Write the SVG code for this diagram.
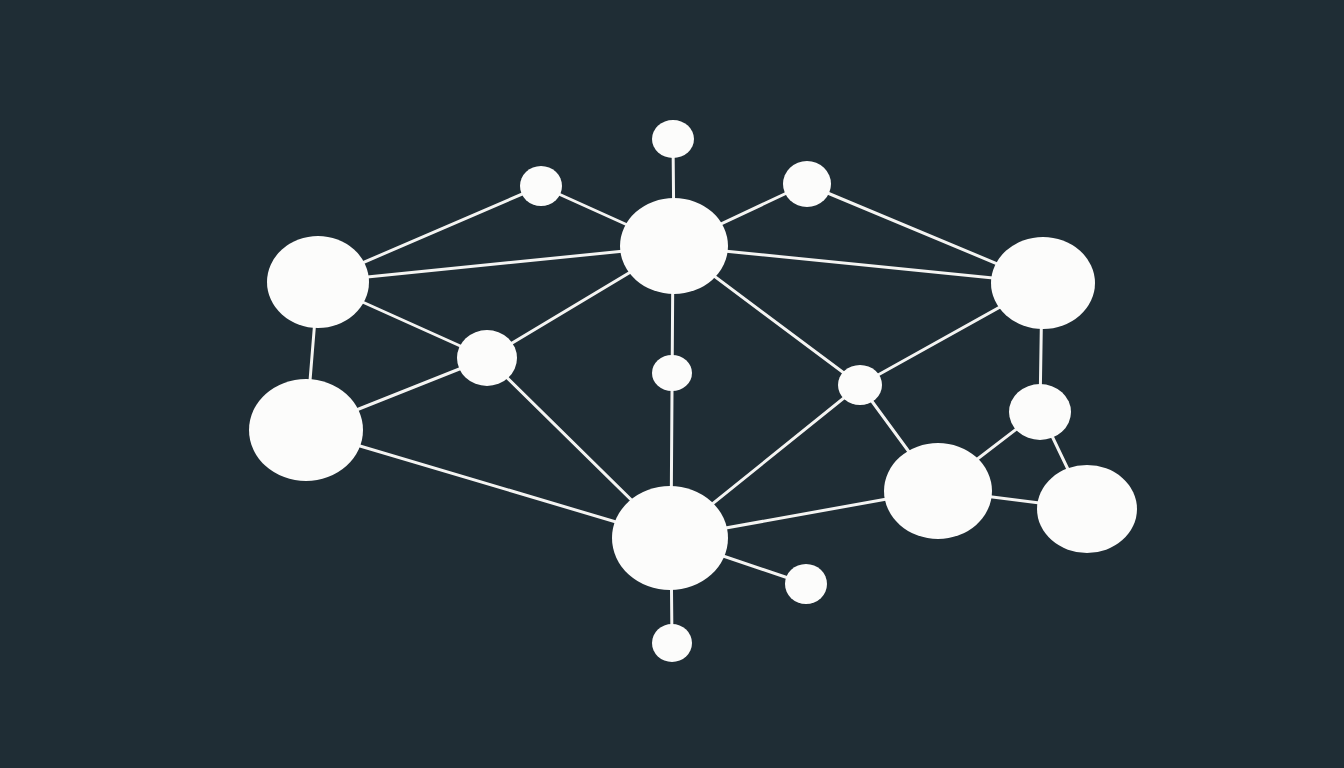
<svg xmlns="http://www.w3.org/2000/svg" width="1344" height="768" viewBox="0 0 1344 768">
<style>
.e{stroke:#f4f4f2;stroke-width:3;stroke-linecap:round;fill:none}
.n{fill:#fcfcfb}
</style>
<rect width="1344" height="768" fill="#1f2d35"/>
<g id="connectors" class="e">
<line x1="673" y1="139" x2="674" y2="246"/>
<line x1="541" y1="186" x2="318" y2="282"/>
<line x1="541" y1="186" x2="674" y2="246"/>
<line x1="806" y1="184" x2="674" y2="246"/>
<line x1="806" y1="184" x2="1043" y2="283"/>
<line x1="318" y1="282" x2="674" y2="246"/>
<line x1="674" y1="246" x2="1043" y2="283"/>
<line x1="318" y1="282" x2="306" y2="430"/>
<line x1="318" y1="282" x2="487" y2="358"/>
<line x1="487" y1="358" x2="674" y2="246"/>
<line x1="306" y1="430" x2="487" y2="358"/>
<line x1="487" y1="358" x2="670" y2="538"/>
<line x1="673" y1="246" x2="671" y2="538"/>
<line x1="674" y1="246" x2="860" y2="385"/>
<line x1="1043" y1="283" x2="860" y2="385"/>
<line x1="860" y1="385" x2="670" y2="538"/>
<line x1="860" y1="385" x2="937" y2="490"/>
<line x1="1042" y1="283" x2="1040" y2="411"/>
<line x1="1040" y1="411" x2="937" y2="490"/>
<line x1="1040" y1="411" x2="1087" y2="509"/>
<line x1="937" y1="490" x2="1087" y2="509"/>
<line x1="306" y1="430" x2="670" y2="538"/>
<line x1="670" y1="538" x2="937" y2="490"/>
<line x1="670" y1="538" x2="806" y2="584"/>
<line x1="671" y1="538" x2="672" y2="643"/>
</g>
<g id="nA"><ellipse class="n" cx="673" cy="139" rx="21" ry="19"/></g>
<g id="nB"><ellipse class="n" cx="541" cy="186" rx="21" ry="20"/></g>
<g id="nC"><ellipse class="n" cx="807" cy="184" rx="24" ry="23"/></g>
<g id="nD"><ellipse class="n" cx="674" cy="246" rx="54" ry="48"/></g>
<g id="nE"><ellipse class="n" cx="318" cy="282" rx="51" ry="46"/></g>
<g id="nF"><ellipse class="n" cx="1043" cy="283" rx="52" ry="46"/></g>
<g id="nG"><ellipse class="n" cx="487" cy="358" rx="30" ry="28"/></g>
<g id="nH"><ellipse class="n" cx="672" cy="373" rx="20" ry="18"/></g>
<g id="nI"><ellipse class="n" cx="860" cy="385" rx="22" ry="20"/></g>
<g id="nJ"><ellipse class="n" cx="306" cy="430" rx="57" ry="51"/></g>
<g id="nK"><ellipse class="n" cx="1040" cy="412" rx="31" ry="28"/></g>
<g id="nL"><ellipse class="n" cx="938" cy="491" rx="54" ry="48"/></g>
<g id="nM"><ellipse class="n" cx="1087" cy="509" rx="50" ry="44"/></g>
<g id="nN"><ellipse class="n" cx="670" cy="538" rx="58" ry="52"/></g>
<g id="nO"><ellipse class="n" cx="806" cy="584" rx="21" ry="20"/></g>
<g id="nP"><ellipse class="n" cx="672" cy="643" rx="20" ry="19"/></g>
</svg>
